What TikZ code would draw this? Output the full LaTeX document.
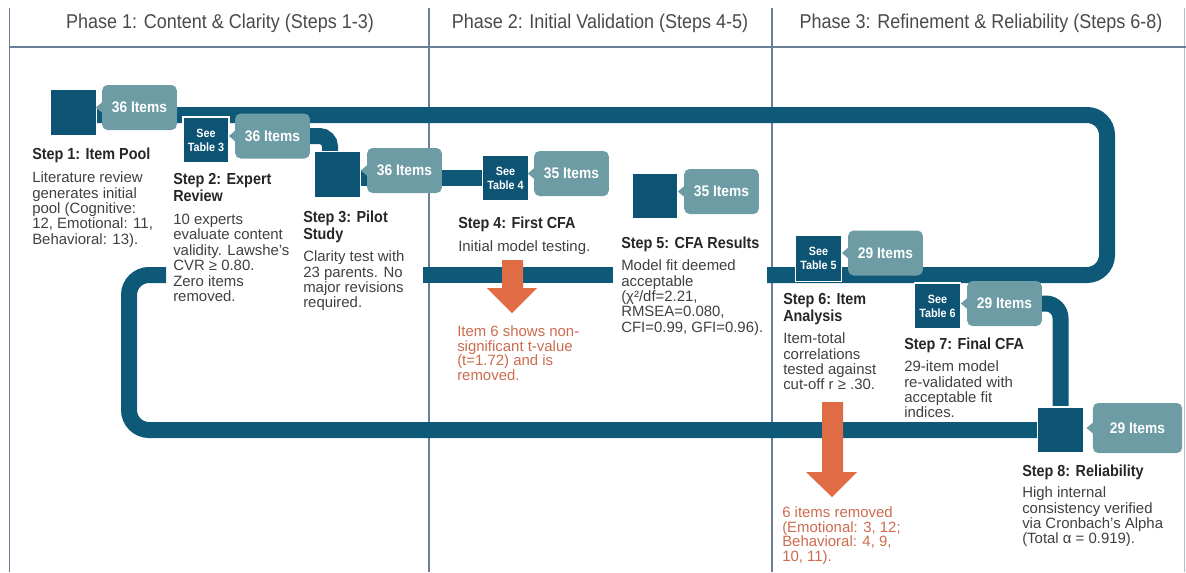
\documentclass[tikz,border=0pt]{standalone}
\usepackage{fontspec}
\setmainfont{Liberation Sans}
\newfontfamily\condf[FakeStretch=0.9]{Liberation Sans}
\usetikzlibrary{calc}

\definecolor{trackc}{HTML}{0E5878}
\definecolor{boxc}{HTML}{0D5373}
\definecolor{calloutc}{HTML}{6D9CA5}
\definecolor{framec}{HTML}{6B7F9A}
\definecolor{orangec}{HTML}{E06C45}
\definecolor{otextc}{HTML}{CC6B4E}
\definecolor{titlec}{HTML}{262626}
\definecolor{bodyc}{HTML}{404040}
\definecolor{headc}{HTML}{4A4A4A}

\pgfdeclarelayer{gridlayer}
\pgfdeclarelayer{tracklayer}
\pgfsetlayers{gridlayer,tracklayer,main}

\tikzset{
  frameline/.style={draw=framec, line width=1pt},
  track/.style={draw=trackc, line width=12pt, rounded corners=15pt},
  sqbox/.style={fill=boxc, draw=white, line width=0.8pt, minimum width=34.5pt,
    minimum height=34.5pt, inner sep=0pt, align=center, text=white,
    font=\condf\bfseries\fontsize{9}{10.5}\selectfont},
  callout/.style={fill=calloutc, rounded corners=4pt, minimum width=56pt,
    minimum height=33.75pt, inner sep=0pt, text=white,
    font=\condf\bfseries\fontsize{11.5}{12}\selectfont},
  steptitle/.style={anchor=north west, inner sep=0pt, align=left, text=titlec,
    font=\condf\bfseries\fontsize{12}{12.75}\selectfont},
  stepbody/.style={anchor=north west, inner sep=0pt, align=left, text=bodyc,
    font=\fontsize{11.2}{11.6}\selectfont},
  stepnote/.style={anchor=north west, inner sep=0pt, align=left, text=otextc,
    font=\fontsize{11.2}{11}\selectfont},
  phasehead/.style={inner sep=0pt, text=headc, font=\condf\fontsize{15}{18}\selectfont},
  droparrow/.style={fill=orangec},
}

% small triangular tip on the left side of an item-count bubble
\newcommand{\bubbletip}[1]{%
  \fill[calloutc] ($(#1.west)+(1,-6)$) -- ($(#1.west)+(-6,0)$) -- ($(#1.west)+(1,6)$) -- cycle;}

\begin{document}
\begin{tikzpicture}[x=0.75pt,y=-0.75pt]
\useasboundingbox (0,0) rectangle (1186,572);

% phase grid
\begin{pgfonlayer}{gridlayer}
\draw[frameline] (9.5,8) -- (9.5,572);
\draw[frameline] (429,8) -- (429,572);
\draw[frameline] (772,8) -- (772,572);
\draw[frameline, draw=framec!50] (1184.5,8) -- (1184.5,572);
\draw[frameline, line width=1.3pt] (9.5,47) -- (1186,47);
\end{pgfonlayer}

\node[phasehead] (h1) at (220,23) {Phase 1: Content \& Clarity (Steps 1-3)};
\node[phasehead] (h2) at (600,23) {Phase 2: Initial Validation (Steps 4-5)};
\node[phasehead] (h3) at (981,23) {Phase 3: Refinement \& Reliability (Steps 6-8)};

% step squares
\node[sqbox] (b1) at (73.5,112.5) {};
\node[sqbox] (b2) at (206,140) {See\\Table 3};
\node[sqbox] (b3) at (337.5,174.5) {};
\node[sqbox] (b4) at (505.5,178) {See\\Table 4};
\node[sqbox] (b5) at (655,196) {};
\node[sqbox] (b6) at (818.5,258.5) {See\\Table 5};
\node[sqbox] (b7) at (937.5,306) {See\\Table 6};
\node[sqbox] (b8) at (1060.5,430) {};

% item-count bubbles
\node[callout] (c1) at (139.5,107.5) {36 Items};
\node[callout] (c2) at (272.5,136) {36 Items};
\node[callout] (c3) at (404.5,170.5) {36 Items};
\node[callout] (c4) at (571.5,173.5) {35 Items};
\node[callout] (c5) at (721.5,191.5) {35 Items};
\node[callout] (c6) at (885.5,253) {29 Items};
\node[callout] (c7) at (1004.5,303.5) {29 Items};
\node[callout, minimum width=67pt, minimum height=37.5pt] (c8) at (1137.5,428) {29 Items};
\foreach \c in {c1,c2,c3,c4,c5,c6,c7,c8} {\bubbletip{\c}}

% the main track
\coordinate (tr0) at (90,115);
\coordinate (tr1) at (1107,115);
\coordinate (tr2) at (1107,275);
\coordinate (tr3) at (767,275);
\coordinate (tm1) at (613,275);
\coordinate (tm2) at (423,275);
\coordinate (tl1) at (166,275);
\coordinate (tl2) at (129,275);
\coordinate (tl3) at (129,430);
\begin{pgfonlayer}{tracklayer}
\draw[track] (tr0) -- (tr1) -- (tr2) -- (tr3);
\draw[track] (tm1) -- (tm2);
\draw[track] (tl1) -- (tl2) -- (tl3) -- (b8.center |- tl3);
\draw[track, rounded corners=8pt] (c2.center) -- (330,136) -- (330,165);
\draw[track] (b3.center |- b4.center) -- (b4.center);
\draw[track, rounded corners=11pt] (c7.center) -- (b8.center |- c7.center) -- (b8.center);
\end{pgfonlayer}

% drop arrows for removed items
\fill[droparrow] (502,260) -- (523,260) -- (523,288) -- (537,288) -- (512,313) -- (487,288) -- (502,288) -- cycle;
\fill[droparrow] (822,402) -- (843,402) -- (843,472) -- (857,472) -- (832,497) -- (806,472) -- (822,472) -- cycle;

% step descriptions
\node[steptitle] (t1) at (32,147.5) {Step 1: Item Pool};
\node[stepbody] (d1) at (32,171.5) {Literature review\\generates initial\\pool (Cognitive:\\12, Emotional: 11,\\Behavioral: 13).};

\node[steptitle] (t2) at (173,173.5) {Step 2: Expert\\Review};
\node[stepbody] (d2) at (173,213.5) {10 experts\\evaluate content\\validity. Lawshe’s\\CVR ≥ 0.80.\\Zero items\\removed.};

\node[steptitle] (t3) at (303,210.5) {Step 3: Pilot\\Study};
\node[stepbody] (d3) at (303,250.5) {Clarity test with\\23 parents. No\\major revisions\\required.};

\node[steptitle] (t4) at (458,216.5) {Step 4: First CFA};
\node[stepbody] (d4) at (458,240.5) {Initial model testing.};
\node[stepnote] (n4) at (457,325.5) {Item 6 shows non-\\significant t-value\\(t=1.72) and is\\removed.};

\node[steptitle] (t5) at (621,236.5) {Step 5: CFA Results};
\node[stepbody] (d5) at (621,259.5) {Model fit deemed\\acceptable\\(χ²/df=2.21,\\RMSEA=0.080,\\CFI=0.99, GFI=0.96).};

\node[steptitle] (t6) at (783,293.5) {Step 6: Item\\Analysis};
\node[stepbody] (d6) at (783,332.5) {Item-total\\correlations\\tested against\\cut-off r ≥ .30.};
\node[stepnote] (n6) at (782,506.5) {6 items removed\\(Emotional: 3, 12;\\Behavioral: 4, 9,\\10, 11).};

\node[steptitle] (t7) at (904,337.5) {Step 7: Final CFA};
\node[stepbody] (d7) at (904,360.5) {29-item model\\re-validated with\\acceptable fit\\indices.};

\node[steptitle] (t8) at (1022,464.5) {Step 8: Reliability};
\node[stepbody] (d8) at (1022,486.5) {High internal\\consistency verified\\via Cronbach’s Alpha\\(Total α = 0.919).};
\end{tikzpicture}
\end{document}
